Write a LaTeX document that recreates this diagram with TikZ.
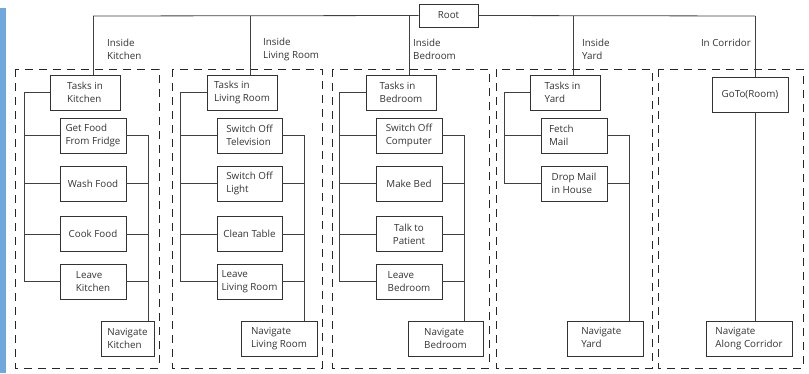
\documentclass[tikz,border=0pt]{standalone}
\usepackage{fontspec}
\setmainfont{Open Sans}
\begin{document}
\begin{tikzpicture}[x=1pt,y=-1pt,
  font=\fontsize{9.8}{12.8}\selectfont,
  every node/.style={text=black!80},
  line/.style={draw=black!75,line width=0.8pt},
  box/.style={draw=black!80,line width=0.8pt,rectangle,inner sep=0pt,align=left},
  taskbox/.style={box,minimum width=70pt,minimum height=35pt},
  childbox/.style={box,minimum width=66pt,minimum height=35pt},
  zone/.style={draw=black!85,line width=0.8pt,dash pattern=on 8pt off 6pt},
  lbl/.style={inner sep=0pt,align=left,anchor=west}]
\useasboundingbox (0,0) rectangle (809,373);
\fill[fill={rgb,255:red,111;green,168;blue,220}] (0,8) rectangle (6,373);

% root
\node[box,minimum width=59pt,minimum height=23pt] (root) at (448.5,15.5) {Root};
\coordinate (kT) at (93,16);
\coordinate (lT) at (250,16);
\coordinate (bT) at (409,16);
\coordinate (yT) at (573,16);
\coordinate (cT) at (755,16);

% zones
\draw[zone] (15,69) rectangle (159,368);
\draw[zone] (172,69) rectangle (322,368);
\draw[zone] (332,69) rectangle (489,368);
\draw[zone] (496,69) rectangle (652,368);
\draw[zone] (658,69) rectangle (803,368);

% labels
\node[lbl] (lk) at (107,49.5) {Inside\\Kitchen};
\node[lbl] (ll) at (263,49.5) {Inside\\Living Room};
\node[lbl] (lb) at (413,49.5) {Inside\\Bedroom};
\node[lbl] (ly) at (582,49.5) {Inside\\Yard};
\node[lbl,anchor=east] (lc) at (751,43) {In Corridor};

% ---- Kitchen
\node[taskbox] (kt) at (85,92.5) {Tasks in\\Kitchen};
\node[childbox] (k1) at (93,135.5) {Get Food\\From Fridge};
\node[childbox] (k2) at (93,183.5) {Wash Food};
\node[childbox] (k3) at (93,234) {Cook Food};
\node[childbox] (k4) at (93,281.5) {Leave\\Kitchen};
\node[box,minimum width=53pt,minimum height=35pt] (kn) at (127.5,338.5) {Navigate\\Kitchen};
\coordinate (kL) at (24,0);
\coordinate (kR) at (148,0);

% ---- Living room
\node[taskbox] (lt) at (242,92.5) {Tasks in\\Living Room};
\node[childbox,minimum width=65pt] (l1) at (249.5,135.5) {Switch Off\\Television};
\node[childbox,minimum width=65pt] (l2) at (249.5,183.5) {Switch Off\\Light};
\node[childbox,minimum width=65pt] (l3) at (249.5,234) {Clean Table};
\node[childbox,minimum width=65pt] (l4) at (249.5,281.5) {Leave\\Living Room};
\node[box,minimum width=76pt,minimum height=35pt] (ln) at (279,338.5) {Navigate\\Living Room};
\coordinate (lL) at (180,0);
\coordinate (lR) at (304,0);

% ---- Bedroom
\node[taskbox] (bt) at (401,92.5) {Tasks in\\Bedroom};
\node[childbox] (b1) at (409,135.5) {Switch Off\\Computer};
\node[childbox] (b2) at (409,183.5) {Make Bed};
\node[childbox,align=center] (b3) at (409,234) {Talk to\\Patient};
\node[childbox] (b4) at (409,281.5) {Leave\\Bedroom};
\node[box,minimum width=75pt,minimum height=35pt] (bn) at (445.5,338.5) {Navigate\\Bedroom};
\coordinate (bL) at (339,0);
\coordinate (bR) at (464,0);

% ---- Yard
\node[taskbox] (yt) at (565,92.5) {Tasks in\\Yard\phantom{Yard}};
\node[childbox] (y1) at (574,135.5) {Fetch\\Mail\phantom{Mail M}};
\node[childbox] (y2) at (574,183.5) {Drop Mail\\in House};
\node[box,minimum width=76pt,minimum height=35pt] (yn) at (605,338.5) {Navigate\\Yard\phantom{vigate}};
\coordinate (yL) at (504,0);
\coordinate (yR) at (629,0);

% ---- Corridor
\node[box,minimum width=76pt,minimum height=35pt] (cg) at (750,94.5) {GoTo(Room)};
\node[box,minimum width=86pt,minimum height=35pt] (cn) at (749,338.5) {Navigate\\Along Corridor};

% ---- connectors from root
\draw[line] (root.west) -- (kT);
\draw[line] (root.east) -- (cT);
\draw[line] (kT) -- (kT |- kt.north);
\draw[line] (lT) -- (lT |- lt.north);
\draw[line] (bT) -- (bT |- bt.north);
\draw[line] (yT) -- (yT |- yt.north);
\draw[line] (cT) -- (cT |- cg.north);
\draw[line] (cT |- cg.south) -- (cT |- cn.north);

% kitchen tree
\draw[line] (kt.west) -| (kL |- k4.west) -- (k4.west);
\draw[line] (k1.west) -- (kL |- k1.west);
\draw[line] (k2.west) -- (kL |- k2.west);
\draw[line] (k3.west) -- (kL |- k3.west);
\draw[line] (k1.east) -| (kR |- kn.north);
\draw[line] (k2.east) -- (kR |- k2.east);
\draw[line] (k3.east) -- (kR |- k3.east);
\draw[line] (k4.east) -- (kR |- k4.east);

% living tree
\draw[line] (lt.west) -| (lL |- l4.west) -- (l4.west);
\draw[line] (l1.west) -- (lL |- l1.west);
\draw[line] (l2.west) -- (lL |- l2.west);
\draw[line] (l3.west) -- (lL |- l3.west);
\draw[line] (l1.east) -| (lR |- ln.north);
\draw[line] (l2.east) -- (lR |- l2.east);
\draw[line] (l3.east) -- (lR |- l3.east);
\draw[line] (l4.east) -- (lR |- l4.east);

% bedroom tree
\draw[line] (bt.west) -| (bL |- b4.west) -- (b4.west);
\draw[line] (b1.west) -- (bL |- b1.west);
\draw[line] (b2.west) -- (bL |- b2.west);
\draw[line] (b3.west) -- (bL |- b3.west);
\draw[line] (b1.east) -| (bR |- bn.north);
\draw[line] (b2.east) -- (bR |- b2.east);
\draw[line] (b3.east) -- (bR |- b3.east);
\draw[line] (b4.east) -- (bR |- b4.east);

% yard tree
\draw[line] (yt.west) -| (yL |- y2.west) -- (y2.west);
\draw[line] (y1.west) -- (yL |- y1.west);
\draw[line] (y1.east) -| (yR |- yn.north);
\draw[line] (y2.east) -- (yR |- y2.east);
\end{tikzpicture}
\end{document}
